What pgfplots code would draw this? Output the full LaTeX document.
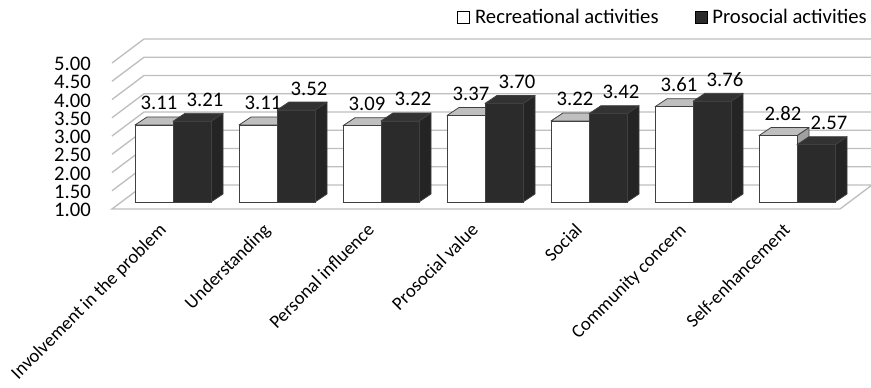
\documentclass[border=0pt]{standalone}
\usepackage{fontspec}
\setmainfont{Carlito}
\usepackage{pgfplots}
\usepackage{pgfplotstable}
\pgfplotsset{compat=1.18}
\definecolor{edge}{RGB}{64,64,64}
\definecolor{wallc}{RGB}{191,191,191}
\definecolor{darkfront}{RGB}{43,43,43}
\definecolor{darkside}{RGB}{36,36,36}
\definecolor{darktop}{RGB}{50,50,50}
\definecolor{lighttop}{RGB}{191,191,191}
\definecolor{lightside}{RGB}{160,160,160}
% cuboid drawn relative to the data point (x, value) on the front plane; bars sit 9px/7px deeper, base at y=1
\newcommand\cuboid[3]{%
  \pgfmathsetlengthmacro\B{5.25pt-(\val-1)*27.375pt}%
  \filldraw[fill=#3, draw=edge, line width=0.6pt, line join=round] (21pt,5.25pt) -- (30pt,11.25pt) -- (30pt,\B+6pt) -- (21pt,\B) -- cycle;
  \filldraw[fill=#2, draw=edge, line width=0.6pt, line join=round] (-7.5pt,5.25pt) -- (1.5pt,11.25pt) -- (30pt,11.25pt) -- (21pt,5.25pt) -- cycle;
  \filldraw[fill=#1, draw=edge, line width=0.6pt] (-7.5pt,\B) rectangle (21pt,5.25pt);}
\pgfdeclareplotmark{cubW}{\cuboid{white}{lighttop}{lightside}}
\pgfdeclareplotmark{cubD}{\cuboid{darkfront}{darktop}{darkside}}
\newcommand\lbl{\fontsize{15.5}{18}\selectfont}
\newcommand\cat{\fontsize{14}{17}\selectfont}
\pgfplotstableread{
x w p
0 3.11 3.21
1 3.11 3.52
2 3.09 3.22
3 3.37 3.70
4 3.22 3.42
5 3.61 3.76
6 2.82 2.57
}\datatable
\begin{document}
\begin{tikzpicture}
\useasboundingbox (0,0) rectangle (653.25pt,290.25pt);
\begin{axis}[
  at={(84pt,133.5pt)}, anchor=south west,
  x=78pt, y=27.375pt,
  xmin=-0.5, xmax=6.5, ymin=1, ymax=5,
  clip=false,
  axis line style={draw=none}, tick style={draw=none},
  major tick length=0pt,
  ytick={1,1.5,2,2.5,3,3.5,4,4.5,5},
  yticklabel style={/pgf/number format/.cd, fixed, fixed zerofill, precision=2, assume math mode=true, /tikz/.cd, font=\lbl, anchor=east, inner sep=0pt, xshift=-15.75pt, yshift=-0.75pt},
  xtick={0,1,2,3,4,5,6},
  xticklabels={Involvement in the problem, Understanding, Personal influence, Prosocial value, Social, Community concern, Self-enhancement},
  xticklabel style={font=\cat, xshift=-4.5pt, yshift=-9.5pt, rotate=45, anchor=north east, inner sep=0pt},
  legend columns=2,
  legend style={at={(1,1.315)}, anchor=east, xshift=20.25pt, draw=none, fill=none, inner sep=0pt, font=\lbl,
    column sep=3.75pt, nodes={inner sep=0pt},
    /tikz/every even column/.append style={column sep=27pt}},
]
% floor and walls
\filldraw[fill=white, draw=wallc, line width=1pt] (axis cs:-0.5,1) -- (axis cs:6.5,1) -- ++(24pt,18pt) -- ([shift={(24pt,18pt)}]axis cs:-0.5,1) -- cycle;
\pgfplotsinvokeforeach{1.5,2,2.5,3,3.5,4,4.5,5}{
  \draw[wallc, line width=1pt] (axis cs:-0.5,#1) -- ++(24pt,18pt) -- ([shift={(24pt,18pt)}]axis cs:6.5,#1);
}
\addplot[only marks, mark=cubW,
  visualization depends on={\thisrow{w} \as \val},
  nodes near coords={\pgfmathprintnumber[fixed, fixed zerofill, precision=2, assume math mode=true]{\pgfplotspointmeta}},
  nodes near coords style={font=\lbl, anchor=base, inner sep=0pt, xshift=10.5pt, yshift=16.5pt, text=black},
  legend image code/.code={\filldraw[fill=white, draw=black, line width=0.6pt] (0pt,-4.5pt) rectangle (9pt,4.5pt);}
] table[x expr=\coordindex-0.1827, y=w] {\datatable};
\addlegendentry{Recreational activities}
\addplot[only marks, mark=cubD,
  visualization depends on={\thisrow{p} \as \val},
  nodes near coords={\pgfmathprintnumber[fixed, fixed zerofill, precision=2, assume math mode=true]{\pgfplotspointmeta}},
  nodes near coords style={font=\lbl, anchor=base, inner sep=0pt, xshift=16.5pt, yshift=16.5pt, text=black},
  legend image code/.code={\filldraw[fill=darkfront, draw=black, line width=0.6pt] (0pt,-4.5pt) rectangle (9pt,4.5pt);}
] table[x expr=\coordindex+0.1827, y=p] {\datatable};
\addlegendentry{Prosocial activities}
\end{axis}
\end{tikzpicture}
\end{document}
